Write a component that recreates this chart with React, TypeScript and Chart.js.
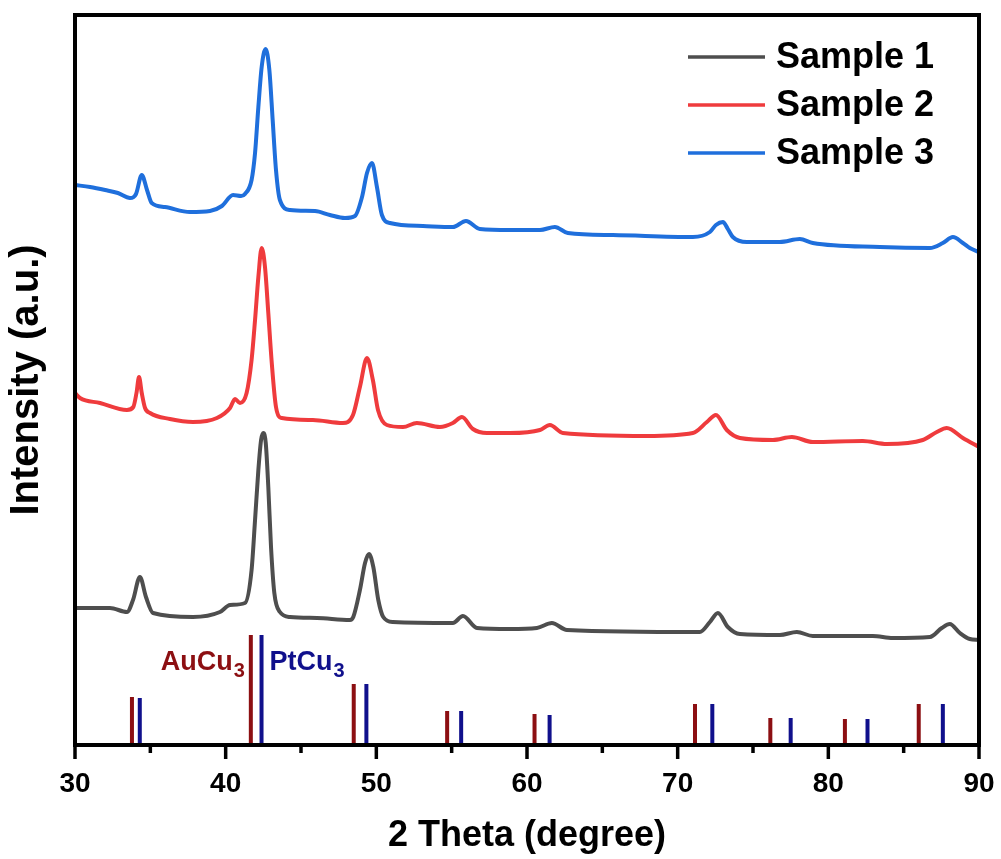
import React, { useEffect, useRef } from "react";
import { Chart, registerables } from "chart.js";

Chart.register(...registerables);

const FONT = '"Liberation Sans", Arial, Helvetica, sans-serif';

// ---- Data ----
const sample1Theta = [30, 32.32, 33.45, 33.85, 34.31, 34.71, 35.18, 37.83, 39.62, 40.29, 41.28, 41.72, 41.95, 42.17, 42.35, 42.5, 42.66, 42.83, 43.01, 43.23, 43.6, 44.27, 46.06, 48.25, 48.47, 48.91, 49.25, 49.51, 49.8, 50.13, 50.46, 51.1, 55.08, 55.75, 56.68, 58.86, 60.66, 61.65, 62.65, 71.47, 72.14, 72.67, 73.33, 74.13, 76.78, 77.91, 78.97, 82.95, 84.28, 86.74, 87.53, 88.06, 88.73, 89.39, 90];
const sample1Intensity = [137, 137, 133, 145, 168, 148, 132, 128, 133, 140, 142, 175, 225, 275, 305, 312, 302, 258, 198, 152, 133, 128, 127, 125, 128, 155, 182, 191, 178, 145, 128, 123, 122, 129, 117, 116, 117, 122, 115, 113, 123, 132, 118, 111, 110, 113, 109, 109, 107, 108, 117, 121, 112, 106, 105];

const sample2Theta = [30, 30.33, 31.66, 33.45, 33.87, 34.08, 34.25, 34.43, 34.65, 34.98, 36.3, 37.83, 39.42, 40.29, 40.62, 40.95, 41.39, 41.72, 41.95, 42.17, 42.39, 42.61, 42.83, 43.06, 43.34, 43.72, 45.79, 47.78, 48.45, 48.91, 49.38, 49.77, 50.11, 50.7, 51.77, 52.69, 54.22, 55.08, 55.68, 56.41, 57.34, 58.86, 60.86, 61.52, 62.38, 67.96, 71.01, 71.94, 72.54, 73.26, 74.13, 76.32, 77.58, 78.97, 82.29, 83.88, 86.27, 87.2, 87.86, 88.93, 90];
const sample2Intensity = [352, 347, 342, 335, 338, 352, 368, 352, 337, 332, 326, 323, 327, 337, 346, 342, 352, 385, 425, 468, 497, 478, 432, 382, 338, 327, 325, 322, 330, 358, 387, 365, 335, 320, 318, 322, 318, 322, 328, 316, 312, 312, 315, 320, 312, 309, 312, 323, 330, 315, 307, 305, 308, 303, 304, 301, 305, 313, 317, 307, 298];

const sample3Theta = [30, 31, 32, 32.85, 33.65, 34.05, 34.43, 34.78, 35.09, 35.97, 37.63, 38.96, 39.75, 40.49, 41.02, 41.28, 41.72, 41.95, 42.17, 42.39, 42.65, 42.9, 43.12, 43.34, 43.6, 44.27, 45.93, 46.92, 47.92, 48.58, 49.05, 49.38, 49.71, 50.04, 50.37, 50.9, 53.09, 55.08, 55.95, 56.87, 58.86, 60.86, 61.85, 62.71, 65.7, 71.01, 72.14, 72.54, 73.0, 73.33, 73.66, 74.59, 76.78, 78.11, 78.97, 83.42, 86.74, 87.6, 88.27, 88.93, 89.39, 90];
const sample3Intensity = [560, 558, 555, 552, 547, 551, 570, 555, 542, 538, 533, 534, 539, 550, 549, 551, 565, 592, 638, 678, 696, 675, 625, 575, 545, 535, 534, 530, 527, 529, 548, 572, 582, 558, 530, 522, 519, 518, 524, 516, 515, 515, 518, 512, 510, 508, 513, 520, 523, 516, 508, 503, 503, 506, 502, 498, 497, 502, 508, 502, 497, 493];

// Reference patterns (stick positions and heights)
const aucu3Theta = [33.78, 41.67, 48.5, 54.7, 60.5, 71.15, 76.15, 81.1, 86.0];
const aucu3Height = [48, 110, 61, 34, 31, 41, 27, 26, 41];
const ptcu3Theta = [34.3, 42.38, 49.34, 55.63, 61.5, 72.3, 77.5, 82.6, 87.6];
const ptcu3Height = [47, 110, 61, 34, 30, 41, 27, 26, 41];

const seriesLabels = ["Sample 1", "Sample 2", "Sample 3"];
const xMajorTicks = [30, 40, 50, 60, 70, 80, 90];
const xMinorTicks = [35, 45, 55, 65, 75, 85];

const COLORS = {
  s1: "#4e4e4e",
  s2: "#ef3b3d",
  s3: "#1f6fdc",
  au: "#8c0f12",
  pt: "#10108c",
};

const toPoints = (xs: number[], ys: number[]) => xs.map((x, i) => ({ x, y: ys[i] }));
const toSticks = (xs: number[], hs: number[]) =>
  xs.flatMap((x, i) => [
    { x, y: 0 },
    { x, y: hs[i] },
    { x, y: null as any },
  ]);

const framePlugin = {
  id: "frameTicks",
  afterDatasetsDraw(chart: any) {
    const { ctx, chartArea: a, scales } = chart;
    const xs = scales.x;
    ctx.save();
    ctx.strokeStyle = "#000";
    ctx.lineWidth = 4;
    ctx.strokeRect(a.left, a.top, a.right - a.left, a.bottom - a.top);
    ctx.lineWidth = 3.5;
    const drawTick = (v: number, len: number) => {
      const px = xs.getPixelForValue(v);
      ctx.beginPath();
      ctx.moveTo(px, a.bottom);
      ctx.lineTo(px, a.bottom + len);
      ctx.stroke();
    };
    xMajorTicks.forEach((v) => drawTick(v, 14));
    xMinorTicks.forEach((v) => drawTick(v, 8));
    ctx.restore();
  },
};

const phasePlugin = {
  id: "phaseLabels",
  afterDatasetsDraw(chart: any) {
    const { ctx, scales } = chart;
    const xs = scales.x;
    const ys = scales.y;
    const base = ys.getPixelForValue(75);
    const mainFont = `bold 27px ${FONT}`;
    const subFont = `bold 20px ${FONT}`;
    ctx.save();
    ctx.textBaseline = "alphabetic";
    ctx.textAlign = "left";

    // AuCu3 to the left of its tallest stick
    const auIdx = aucu3Height.indexOf(Math.max(...aucu3Height));
    const auPx = xs.getPixelForValue(aucu3Theta[auIdx]);
    ctx.font = mainFont;
    const wAu = ctx.measureText("AuCu").width;
    ctx.font = subFont;
    const wSub = ctx.measureText("3").width;
    let sx = auPx - 7 - wAu - wSub;
    ctx.fillStyle = COLORS.au;
    ctx.font = mainFont;
    ctx.fillText("AuCu", sx, base);
    ctx.font = subFont;
    ctx.fillText("3", sx + wAu + 1, base + 7);

    // PtCu3 to the right of its tallest stick
    const ptIdx = ptcu3Height.indexOf(Math.max(...ptcu3Height));
    const ptPx = xs.getPixelForValue(ptcu3Theta[ptIdx]);
    ctx.fillStyle = COLORS.pt;
    ctx.font = mainFont;
    const wPt = ctx.measureText("PtCu").width;
    sx = ptPx + 8;
    ctx.fillText("PtCu", sx, base);
    ctx.font = subFont;
    ctx.fillText("3", sx + wPt + 1, base + 7);
    ctx.restore();
  },
};

const legendPlugin = {
  id: "insideLegend",
  afterDraw(chart: any) {
    const { ctx, chartArea: a } = chart;
    const items = chart.data.datasets.slice(0, 3);
    ctx.save();
    ctx.font = `bold 36px ${FONT}`;
    ctx.textBaseline = "middle";
    ctx.textAlign = "left";
    items.forEach((ds: any, i: number) => {
      const yy = a.top + 42 + i * 48;
      ctx.strokeStyle = ds.borderColor;
      ctx.lineWidth = 3.5;
      ctx.beginPath();
      ctx.moveTo(a.right - 291, yy);
      ctx.lineTo(a.right - 214, yy);
      ctx.stroke();
      ctx.fillStyle = "#000";
      ctx.fillText(ds.label, a.right - 203, yy + 1);
    });
    ctx.restore();
  },
};

export default function App() {
  const ref = useRef<HTMLCanvasElement | null>(null);

  useEffect(() => {
    if (!ref.current) return;
    const lineDs = (label: string, xs: number[], ys: number[], color: string) => ({
      label,
      data: toPoints(xs, ys),
      borderColor: color,
      backgroundColor: color,
      borderWidth: 4,
      pointRadius: 0,
      cubicInterpolationMode: "monotone" as const,
      fill: false,
    });
    const stickDs = (label: string, xs: number[], hs: number[], color: string) => ({
      label,
      data: toSticks(xs, hs),
      borderColor: color,
      backgroundColor: color,
      borderWidth: 4,
      pointRadius: 0,
      tension: 0,
      spanGaps: false,
      borderCapStyle: "butt" as const,
      fill: false,
    });

    const chart = new Chart(ref.current, {
      type: "line",
      data: {
        datasets: [
          lineDs(seriesLabels[0], sample1Theta, sample1Intensity, COLORS.s1),
          lineDs(seriesLabels[1], sample2Theta, sample2Intensity, COLORS.s2),
          lineDs(seriesLabels[2], sample3Theta, sample3Intensity, COLORS.s3),
          stickDs("AuCu3", aucu3Theta, aucu3Height, COLORS.au),
          stickDs("PtCu3", ptcu3Theta, ptcu3Height, COLORS.pt),
        ] as any,
      },
      options: {
        responsive: false,
        animation: false,
        devicePixelRatio: 1,
        layout: { autoPadding: false, padding: { top: 15, right: 22, left: 0, bottom: 0 } },
        plugins: {
          legend: { display: false },
          tooltip: { enabled: false },
        },
        scales: {
          x: {
            type: "linear",
            min: 30,
            max: 90,
            afterBuildTicks: (s: any) => {
              s.ticks = xMajorTicks.map((v) => ({ value: v }));
            },
            ticks: {
              color: "#000",
              padding: 22,
              font: { family: FONT, size: 28, weight: "bold" },
              maxRotation: 0,
              autoSkip: false,
            },
            grid: { display: false, drawTicks: false },
            border: { display: false },
            title: {
              display: true,
              text: "2 Theta (degree)",
              color: "#000",
              font: { family: FONT, size: 36, weight: "bold", lineHeight: 1.2 },
              padding: { top: 0, bottom: 1 },
            },
            afterFit: (s: any) => {
              s.height = 114;
              s.paddingLeft = 0;
              s.paddingRight = 0;
            },
          },
          y: {
            type: "linear",
            min: 0,
            max: 730,
            ticks: { display: false },
            grid: { display: false, drawTicks: false },
            border: { display: false },
            title: {
              display: true,
              text: "Intensity (a.u.)",
              color: "#000",
              font: { family: FONT, size: 40, weight: "bold", lineHeight: 1.2 },
              padding: { top: 3, bottom: 0 },
            },
            afterFit: (s: any) => {
              s.width = 75;
              s.paddingTop = 0;
              s.paddingBottom = 0;
            },
          },
        },
      } as any,
      plugins: [framePlugin, phasePlugin, legendPlugin],
    });
    return () => chart.destroy();
  }, []);

  return (
    <div style={{ position: "fixed", left: 0, top: 0, width: 1001, height: 859, background: "#fff" }}>
      <canvas ref={ref} width={1001} height={859} style={{ display: "block" }} />
    </div>
  );
}
